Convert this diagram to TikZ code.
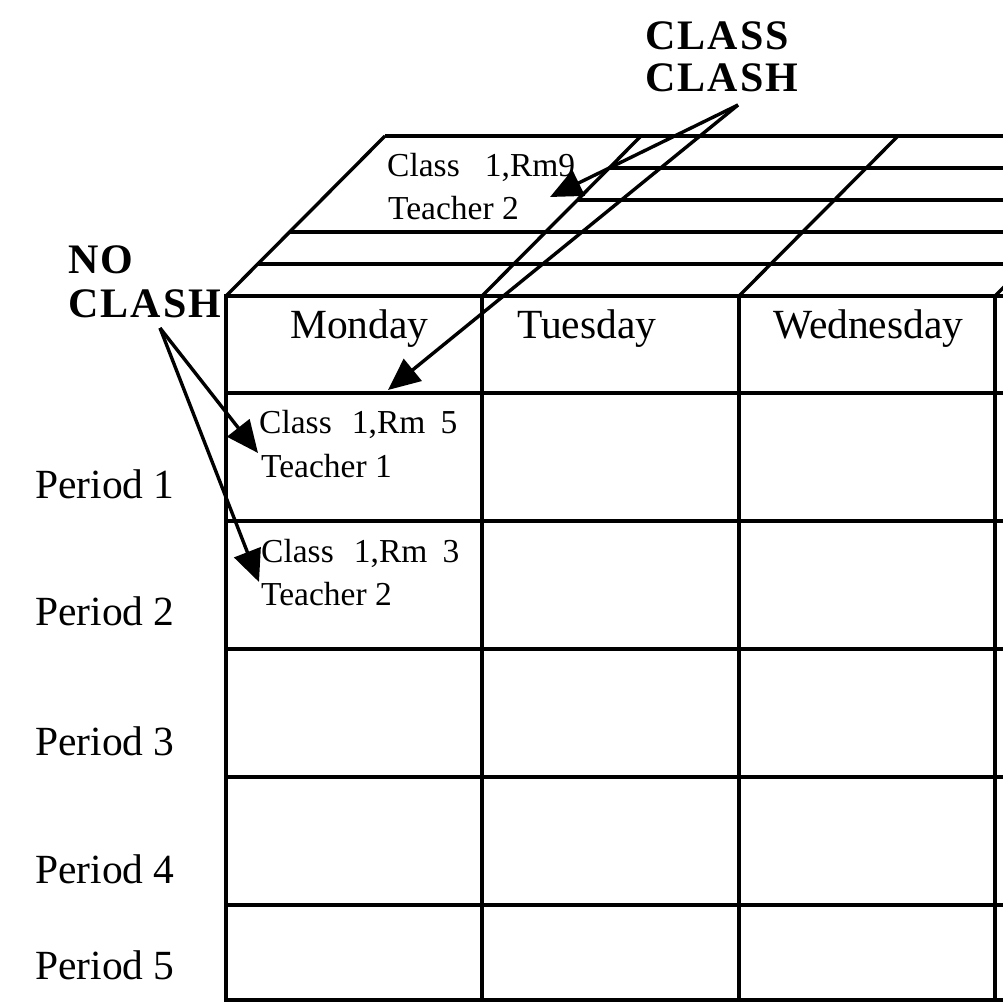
\documentclass[tikz,border=0pt]{standalone}
\usepackage{fontspec}
\setmainfont{Liberation Serif}
\newfontfamily\lsfont[LetterSpace=5]{Liberation Serif}
\usetikzlibrary{arrows.meta}
\begin{document}
\begin{tikzpicture}[x=1pt,y=-1pt,
  grid/.style={line width=3.4pt},
  bigtxt/.style={anchor=base west, inner sep=0pt, font=\fontsize{41.5}{49}\selectfont},
  smalltxt/.style={anchor=base west, inner sep=0pt, font=\fontsize{33.5}{40}\selectfont},
  boldtxt/.style={anchor=base west, inner sep=0pt, font=\lsfont\bfseries\fontsize{42}{44}\selectfont},
  pointer/.style={line width=3.4pt, -{Triangle[length=32pt,width=28pt]}}]
\useasboundingbox (0,0) rectangle (1003,1003);
\clip (0,0) rectangle (1003,1003);
% front grid
\foreach \x in {226,482,739,995} \draw[grid] (\x,296) -- (\x,1001.7);
\foreach \y in {296,393,521,649,777,905,1000} \draw[grid] (224.3,\y) -- (1010,\y);
% top face
\draw[grid] (385,136) -- (1010,136);
\draw[grid] (226,296) -- (385,136);
\draw[grid] (482,296) -- (641,136);
\draw[grid] (739,296) -- (898,136);
\draw[grid] (995,296) -- (1154,136);
\draw[grid] (258,264) -- (1010,264);
\draw[grid] (290,232) -- (1010,232);
\draw[grid] (577,200) -- (1010,200);
\draw[grid] (609,168) -- (1010,168);
% day headers
\node[bigtxt] (mon) at (290,338) {Monday};
\node[bigtxt] (tue) at (517,338) {Tuesday};
\node[bigtxt] (wed) at (773,338) {Wednesday};
% periods
\node[bigtxt] (p1) at (35,498) {Period 1};
\node[bigtxt] (p2) at (35,625) {Period 2};
\node[bigtxt] (p3) at (35,755) {Period 3};
\node[bigtxt] (p4) at (35,883) {Period 4};
\node[bigtxt] (p5) at (35,979) {Period 5};
% cell entries
\node[smalltxt] (top1) at (387,177) {Class\hspace{0.75em}1,Rm9};
\node[smalltxt] (top2) at (388,219) {Teacher 2};
\node[smalltxt] (a1) at (259,433) {Class\hspace{0.6em}1,Rm\hspace{0.45em}5};
\node[smalltxt] (a2) at (261,477) {Teacher 1};
\node[smalltxt] (b1) at (261,562) {Class\hspace{0.6em}1,Rm\hspace{0.45em}3};
\node[smalltxt] (b2) at (261,605) {Teacher 2};
% labels
\node[boldtxt] (cc1) at (645,50) {CLASS};
\node[boldtxt] (cc2) at (645,92) {CLASH};
\node[boldtxt] (nc1) at (68,273) {NO};
\node[boldtxt] (nc2) at (68,317) {CLASH};
% arrows
\coordinate (ccs) at (738,105);
\coordinate (ncs) at (160,328);
\coordinate (cct1) at (550,197);
\coordinate (cct2) at (388,390);
\coordinate (nct1) at (258,453);
\coordinate (nct2) at (259,582);
\draw[pointer] (ccs) -- (cct1);
\draw[pointer] (ccs) -- (cct2);
\draw[pointer] (ncs) -- (nct1);
\draw[pointer] (ncs) -- (nct2);
\end{tikzpicture}
\end{document}
